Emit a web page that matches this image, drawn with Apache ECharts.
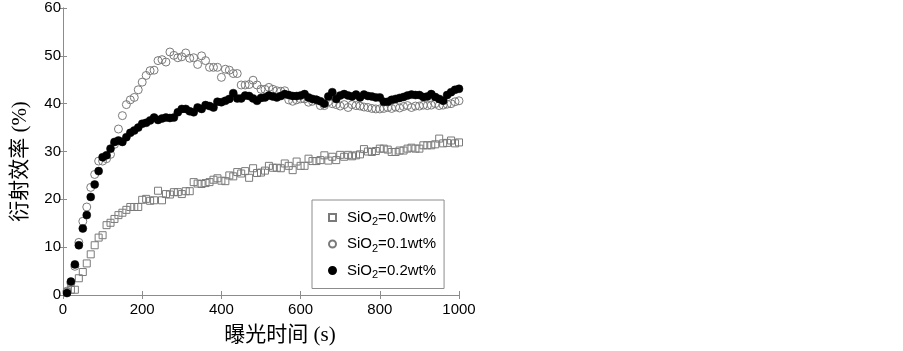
<!DOCTYPE html>
<html>
<head>
<meta charset="utf-8">
<script src="https://cdn.jsdelivr.net/npm/echarts@6/dist/echarts.min.js"></script>
<style>
html,body{margin:0;padding:0;background:#fff;}
#chart{width:903px;height:351px;}
</style>
</head>
<body>
<div id="chart"></div>
<script>
// 曝光时间 (s)
var times=[10,20,30,40,50,60,70,80,90,100,
	110,120,130,140,150,160,170,180,190,200,
	210,220,230,240,250,260,270,280,290,300,
	310,320,330,340,350,360,370,380,390,400,
	410,420,430,440,450,460,470,480,490,500,
	510,520,530,540,550,560,570,580,590,600,
	610,620,630,640,650,660,670,680,690,700,
	710,720,730,740,750,760,770,780,790,800,
	810,820,830,840,850,860,870,880,890,900,
	910,920,930,940,950,960,970,980,990,1000];

// SiO2=0.0wt%
var sio2_00=[0.6,1.1,1.1,3.5,4.8,6.6,8.5,10.4,12.0,12.5,
	14.6,15.1,15.9,16.7,17.2,17.8,18.4,18.4,18.4,19.9,
	20.1,19.7,19.8,21.8,19.8,21.1,21.0,21.5,21.5,21.1,
	21.7,21.7,23.6,23.3,23.2,23.4,23.6,24.1,24.4,23.9,
	23.8,25.0,24.8,25.7,25.4,25.9,24.5,26.5,25.5,25.6,
	26.0,27.0,26.6,26.6,26.5,27.5,27.0,26.1,27.9,27.0,
	27.0,28.5,28.0,28.0,28.2,29.2,28.1,28.9,28.2,29.3,
	28.9,29.3,29.0,29.2,29.4,30.5,30.0,29.9,30.1,30.6,
	30.6,30.4,29.9,29.9,30.2,30.2,30.6,30.8,30.6,30.6,
	31.3,31.3,31.3,31.5,32.7,31.7,31.8,32.3,31.7,31.9];

// SiO2=0.1wt%
var sio2_01=[0.8,2.5,6.0,11.0,15.4,18.4,22.5,25.2,28.0,28.0,
	28.5,29.4,31.5,34.7,37.5,39.8,40.8,41.3,42.9,44.5,
	45.9,46.9,47.0,49.0,49.2,48.7,50.8,50.1,49.6,49.8,
	50.6,49.5,49.6,48.2,50.0,49.0,47.6,47.6,47.6,45.5,
	47.2,47.0,46.3,46.3,43.9,43.9,44.0,44.9,43.9,43.0,
	43.0,43.4,43.0,42.7,42.6,42.7,40.8,40.5,40.8,41.0,
	41.0,40.3,40.5,40.8,39.6,39.6,40.4,40.0,39.8,39.5,
	39.8,39.2,39.8,39.6,39.5,39.3,39.2,39.0,38.9,38.9,
	39.0,39.2,39.0,39.3,39.1,39.4,39.6,39.2,39.5,39.5,
	39.7,39.6,39.7,40.0,39.6,39.7,39.9,40.0,40.4,40.6];

// SiO2=0.2wt%
var sio2_02=[0.4,2.8,6.4,10.4,13.9,16.7,20.5,23.1,25.9,28.8,
	29.2,30.6,32.0,32.3,32.0,33.0,33.9,34.4,35.0,35.8,
	36.0,36.5,37.1,36.6,36.9,37.1,37.0,37.1,38.2,38.9,
	38.9,38.4,38.2,39.2,38.9,39.7,39.5,39.2,40.4,40.3,
	40.6,41.0,42.2,41.1,41.1,41.7,41.6,41.1,40.6,41.2,
	41.3,41.7,41.5,41.3,41.6,42.0,41.8,41.6,41.6,41.7,
	42.0,41.3,41.0,40.8,40.5,40.0,41.5,42.4,41.0,41.7,
	42.0,41.7,41.5,41.9,41.3,41.9,41.6,41.5,41.3,41.3,
	40.4,40.4,40.8,41.0,41.2,41.4,41.7,41.9,41.8,41.8,
	41.4,41.5,42.0,41.4,41.0,40.6,41.8,42.4,42.9,43.1];

var seriesNames=['SiO2=0.0wt%','SiO2=0.1wt%','SiO2=0.2wt%'];
var xTicks=[0,200,400,600,800,1000];
var yTicks=[0,10,20,30,40,50,60];

function pairs(xs,ys){
	var out=[];
	for(var i=0;i<xs.length;i++){
		out.push([xs[i],ys[i]]);
	}
	return out;
}

var chart=echarts.init(document.getElementById('chart'));
var axisColor='#8c8c8c';
var labelFont='"Liberation Sans", Arial, sans-serif';
var nameFont='"Liberation Serif", "Noto Sans CJK SC", serif';

function xAxisOf(pos,showLabel){
	return {
		type:'value',
		position:pos,
		min:xTicks[0],
		max:xTicks[xTicks.length-1],
		interval:200,
		axisLine:{show:true,lineStyle:{color:axisColor,width:1}},
		axisTick:{show:true,inside:true,length:4,lineStyle:{color:axisColor}},
		axisLabel:{show:showLabel,color:'#000',fontSize:15,fontFamily:labelFont,margin:7,
			formatter:function(v){return String(v);}},
		splitLine:{show:false}
	};
}
function yAxisOf(pos,showLabel){
	return {
		type:'value',
		position:pos,
		min:yTicks[0],
		max:yTicks[yTicks.length-1],
		interval:10,
		axisLine:{show:true,lineStyle:{color:axisColor,width:1}},
		axisTick:{show:true,inside:true,length:4,lineStyle:{color:axisColor}},
		axisLabel:{show:showLabel,color:'#000',fontSize:15,fontFamily:labelFont,margin:2},
		splitLine:{show:false}
	};
}

var xBottom=xAxisOf('bottom',true);
xBottom.name='曝光时间 (s)';
xBottom.nameLocation='middle';
xBottom.nameGap=30;
xBottom.nameTextStyle={color:'#000',fontSize:21,fontFamily:nameFont,padding:[0,0,0,38]};

var yLeft=yAxisOf('left',true);
yLeft.name='衍射效率 (%)';
yLeft.nameLocation='middle';
yLeft.nameGap=32;
yLeft.nameTextStyle={color:'#000',fontSize:21,fontFamily:nameFont,padding:[0,20,0,0]};

var legendRich={
	a:{fontSize:15,fontFamily:labelFont,color:'#000'},
	s:{fontSize:11,fontFamily:labelFont,color:'#000',padding:[9,0,0,0]}
};

var option={
	backgroundColor:'#ffffff',
	animation:false,
	grid:{left:63,right:444,top:8,bottom:53,containLabel:false},
	xAxis:[xBottom,xAxisOf('top',false)],
	yAxis:[yLeft,yAxisOf('right',false)],
	legend:{
		orient:'vertical',
		left:312,
		top:200,
		width:130,
		padding:[10,8,8,16],
		itemGap:9,
		itemWidth:7,
		itemHeight:7,
		borderColor:'#8c8c8c',
		borderWidth:1,
		backgroundColor:'#fff',
		textStyle:{padding:[0,0,0,6],rich:legendRich},
		formatter:function(name){
			var tail=name.split('SiO2')[1];
			return '{a|SiO}{s|2}{a|'+tail+'}';
		},
		data:seriesNames
	},
	series:[
		{
			name:seriesNames[0],
			type:'scatter',
			symbol:'rect',
			symbolSize:7,
			itemStyle:{color:'rgba(0,0,0,0)',borderColor:'#7a7a7a',borderWidth:1,opacity:1},
			data:pairs(times,sio2_00)
		},
		{
			name:seriesNames[1],
			type:'scatter',
			symbol:'circle',
			symbolSize:8,
			itemStyle:{color:'rgba(0,0,0,0)',borderColor:'#7a7a7a',borderWidth:1,opacity:1},
			data:pairs(times,sio2_01)
		},
		{
			name:seriesNames[2],
			type:'scatter',
			symbol:'circle',
			symbolSize:8,
			itemStyle:{color:'#000',borderColor:'#000',borderWidth:0.5,opacity:1},
			data:pairs(times,sio2_02)
		}
	]
};
chart.setOption(option);
</script>
</body>
</html>
